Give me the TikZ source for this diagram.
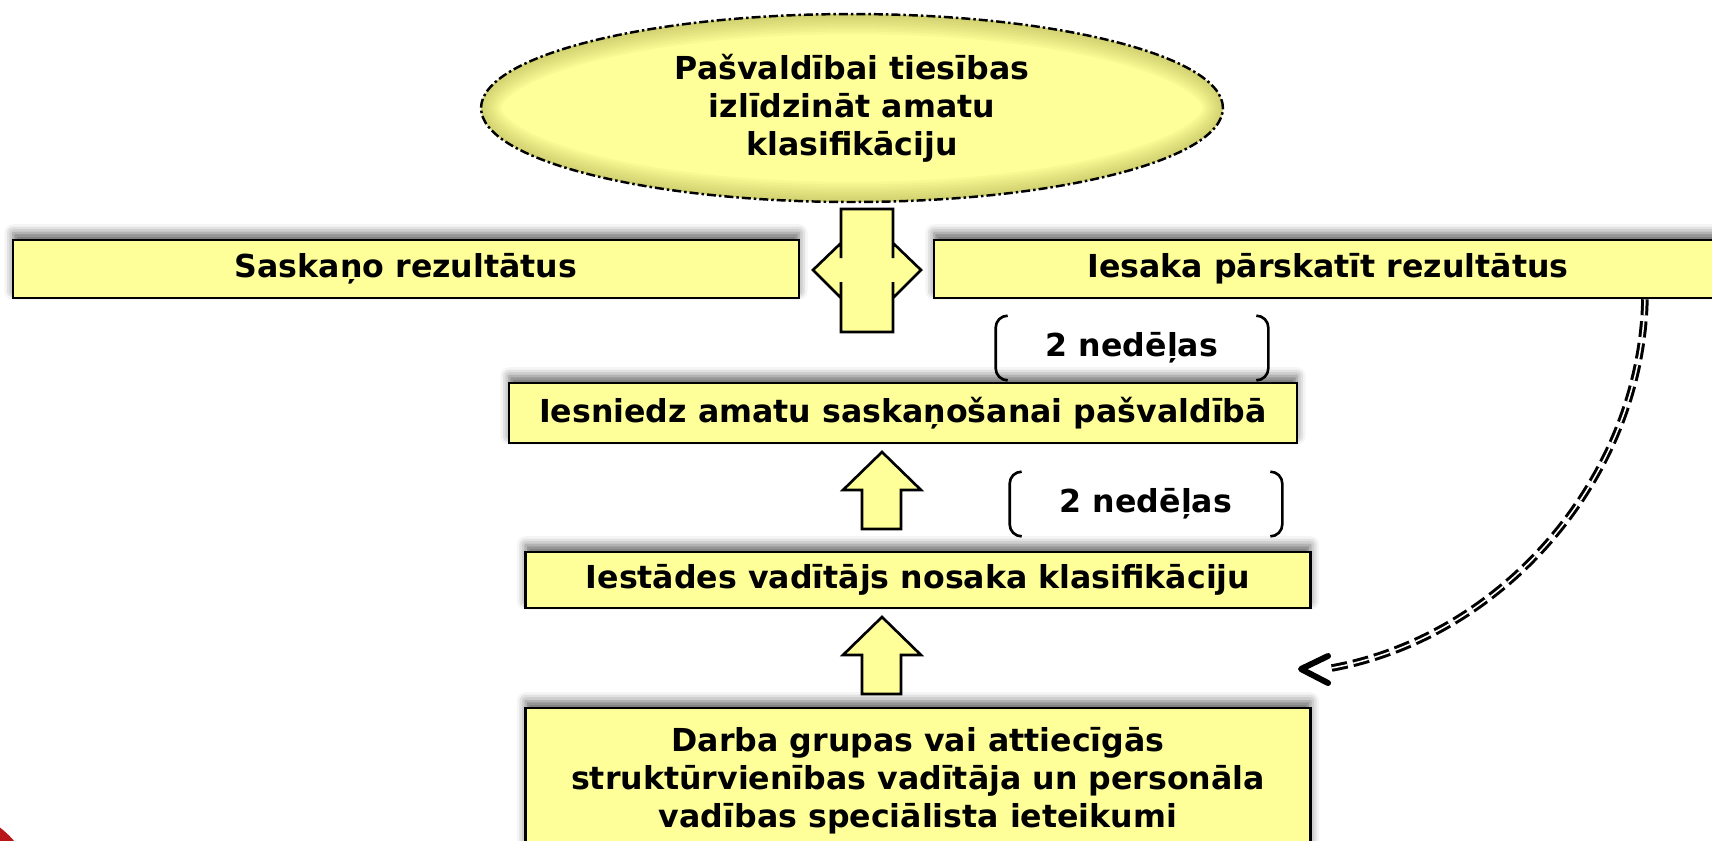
\documentclass[tikz,border=0pt]{standalone}
\usepackage{fontspec}
\setmainfont{DejaVu Sans}
\usetikzlibrary{shapes.geometric,shadows.blur}
\definecolor{boxyellow}{RGB}{255,255,153}
\definecolor{glow}{RGB}{150,150,60}
\definecolor{cornerred}{RGB}{185,20,25}

\begin{document}
\begin{tikzpicture}[x=0.02cm,y=-0.02cm,
  font=\fontsize{18}{21.6}\selectfont\bfseries,
  box/.style={draw=black,line width=1.5pt,fill=boxyellow,inner sep=0pt,align=center,
    blur shadow={shadow xshift=0pt,shadow yshift=4pt,shadow blur radius=5pt,shadow opacity=60}},
  blk/.style={draw=black,line width=1.5pt,fill=boxyellow},
  wks/.style={inner sep=0pt,minimum width=5.44cm,minimum height=1.28cm},
  brk/.style={line width=1.5pt,rounded corners=0.24cm},
  ret/.style={line width=0.06cm,double=white,double distance=0.03cm,dash pattern=on 0.32cm off 0.12cm}]
\useasboundingbox (0,0) rectangle (1712,840);
\fill[cornerred] (-60,905) circle [radius=1.96cm];

% boxes
\node[box,minimum width=15.72cm,minimum height=1.16cm] (sask) at (406,269) {Saskaņo rezultātus};
\node[box,minimum width=15.76cm,minimum height=1.16cm] (iesaka) at (1328,269) {Iesaka pārskatīt rezultātus};
\node[box,minimum width=15.76cm,minimum height=1.2cm] (iesn) at (903,413) {Iesniedz amatu saskaņošanai pašvaldībā};
\node[box,minimum width=15.7cm,minimum height=1.12cm] (iest) at (918,580) {Iestādes vadītājs nosaka klasifikāciju};
\node[box,minimum width=15.7cm,minimum height=2.92cm] (darba) at (918,781)
  {Darba grupas vai attiecīgās\\struktūrvienības vadītāja un personāla\\vadības speciālista ieteikumi};

\node[ellipse,draw=black,line width=1.4pt,fill=boxyellow,inner sep=0pt,align=center,
  minimum width=14.84cm,minimum height=3.76cm,
  dash pattern=on 0.18cm off 0.06cm on 0.05cm off 0.06cm,
  path picture={\foreach \w in {0.8,0.7,0.6,0.5,0.4,0.3,0.2,0.1}
    \draw[glow,opacity=0.06,line width=\w cm,solid] (path picture bounding box.center) ellipse [x radius=7.42cm,y radius=1.88cm];}]
  (ell) at (852,108) {Pašvaldībai tiesības\\izlīdzināt amatu\\klasifikāciju};

% cross between the two answers
\fill[boxyellow] (841,209) -- (893,209) -- (893,243) -- (921,270) -- (893,298) -- (893,332)
  -- (841,332) -- (841,298) -- (813,270) -- (841,243) -- cycle;
\draw[line width=1.5pt] (841,258) -- (841,209) -- (893,209) -- (893,258)
  (893,243) -- (921,270) -- (893,298)
  (893,282) -- (893,332) -- (841,332) -- (841,282)
  (841,298) -- (813,270) -- (841,243);

% up arrows
\foreach \t in {452,617}
  \draw[blk] (862,\t+77) -- (862,\t+38) -- (843,\t+38) -- (882,\t) -- (921,\t+38) -- (901,\t+38) -- (901,\t+77) -- cycle;

% time frames
\node[wks] (w1) at (1132,348) {2 nedēļas};
\node[wks] (w2) at (1146,504) {2 nedēļas};
\foreach \n in {w1,w2}{
  \draw[brk] ([xshift=0.24cm]\n.north west) -- (\n.north west) -- (\n.south west) -- ([xshift=0.24cm]\n.south west);
  \draw[brk] ([xshift=-0.24cm]\n.north east) -- (\n.north east) -- (\n.south east) -- ([xshift=-0.24cm]\n.south east);
}

% back to the start
\coordinate (rs) at ([xshift=6.34cm]iesaka.south);
\coordinate (back) at (1301,669);
\draw[ret] (rs) .. controls (1641,480) and (1500,640) .. ([xshift=0.5cm]back);
\draw[line width=0.12cm,line cap=round,line join=round] ([shift={(27,-13)}]back) -- (back) -- ([shift={(27,14)}]back);
\end{tikzpicture}
\end{document}
